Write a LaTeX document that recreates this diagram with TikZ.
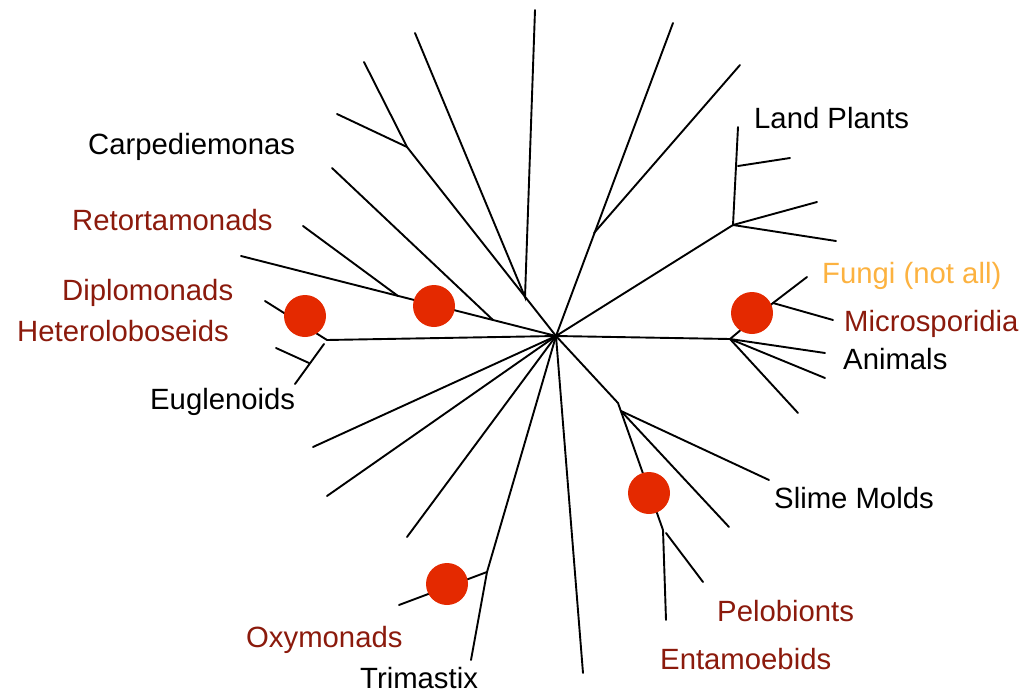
\documentclass[tikz,border=0pt]{standalone}
\usepackage{fontspec}
\setmainfont{Liberation Sans}
\definecolor{darkred}{RGB}{139,26,12}
\definecolor{fungi}{RGB}{252,178,64}
\definecolor{dotred}{RGB}{228,41,0}
\tikzset{
  branch/.style={draw=black,line width=1.9pt,line cap=round},
  event/.style={circle,fill=dotred,draw=none,minimum size=42pt,inner sep=0pt},
  taxon/.style={anchor=base west,inner sep=0pt,font=\fontsize{29.3}{34}\selectfont},
  black taxon/.style={taxon,text=black},
  red taxon/.style={taxon,text=darkred},
  fungi taxon/.style={taxon,text=fungi},
}
\begin{document}
\begin{tikzpicture}[x=1pt,y=-1pt]
\useasboundingbox (0,0) rectangle (1020,693);

% root of the unrooted tree
\coordinate (C) at (556,336);

% upper-left clade
\coordinate (j1) at (407,147);
\coordinate (a1) at (364,62);
\coordinate (a1b) at (337,114);
\coordinate (j2) at (525,297);
\coordinate (a2) at (415,33);
\coordinate (a3) at (535,10);

% Retortamonads line with side branches
\coordinate (r0) at (241,256);
\coordinate (r1) at (398,296);
\coordinate (r1t) at (303,226);
\coordinate (r2) at (493,320);
\coordinate (r2t) at (332,168);

% Heterolobosei / Diplomonads / Euglenoids
\coordinate (h0) at (327,340);
\coordinate (d0) at (265,301);
\coordinate (e0) at (324,344);
\coordinate (e1) at (295,384);
\coordinate (e2) at (309,363);
\coordinate (e2t) at (276,348);

% upper-right clades
\coordinate (t0) at (594,233);
\coordinate (t1) at (673,23);
\coordinate (t2) at (740,65);
\coordinate (L0) at (733,225);
\coordinate (L1) at (738,127);
\coordinate (L2) at (738,166);
\coordinate (L2t) at (790,158);
\coordinate (L3) at (817,202);
\coordinate (L4) at (836,241);

% opisthokonts
\coordinate (F0) at (730,339);
\coordinate (F1) at (773,303);
\coordinate (Ft) at (807,277);
\coordinate (Mt) at (833,320);
\coordinate (A1) at (825,353);
\coordinate (A2) at (825,378);
\coordinate (A3) at (798,413);

% amoebozoa
\coordinate (S0) at (618,403);
\coordinate (S1) at (621,411);
\coordinate (P0) at (663,530);
\coordinate (P1) at (666,620);
\coordinate (P2) at (666,533);
\coordinate (P2t) at (703,582);
\coordinate (S2) at (729,527);
\coordinate (S3) at (769,480);

% lower-left lineages
\coordinate (b1) at (313,447);
\coordinate (b2) at (327,496);
\coordinate (b3) at (407,537);
\coordinate (T0) at (487,572);
\coordinate (T1) at (471,660);
\coordinate (T2) at (399,605);
\coordinate (b5) at (583,673);

% branches
\draw[branch] (C) -- (j1) -- (a1);
\draw[branch] (j1) -- (a1b);
\draw[branch] (a2) -- (j2) -- (a3);
\draw[branch] (r0) -- (C);
\draw[branch] (r1t) -- (r1);
\draw[branch] (r2t) -- (r2);
\draw[branch] (C) -- (h0);
\draw[branch] (d0) -- (h0);
\draw[branch] (e0) -- (e1);
\draw[branch] (e2t) -- (e2);
\draw[branch] (C) -- (t1);
\draw[branch] (t0) -- (t2);
\draw[branch] (C) -- (L0) -- (L1);
\draw[branch] (L2) -- (L2t);
\draw[branch] (L0) -- (L3);
\draw[branch] (L0) -- (L4);
\draw[branch] (C) -- (F0) -- (F1) -- (Ft);
\draw[branch] (F1) -- (Mt);
\draw[branch] (F0) -- (A1);
\draw[branch] (F0) -- (A2);
\draw[branch] (F0) -- (A3);
\draw[branch] (C) -- (S0) -- (P0) -- (P1);
\draw[branch] (P2) -- (P2t);
\draw[branch] (S1) -- (S2);
\draw[branch] (S1) -- (S3);
\draw[branch] (C) -- (b1);
\draw[branch] (C) -- (b2);
\draw[branch] (C) -- (b3);
\draw[branch] (C) -- (T0) -- (T1);
\draw[branch] (T0) -- (T2);
\draw[branch] (C) -- (b5);

% marked events
\node[event] (dot1) at (305,316) {};
\node[event] (dot2) at (434,306) {};
\node[event] (dot3) at (752,313) {};
\node[event] (dot4) at (649,493) {};
\node[event] (dot5) at (447,584) {};

% labels
\node[black taxon] (carp) at (88,154) {Carpediemonas};
\node[red taxon] (retort) at (72,230) {Retortamonads};
\node[red taxon] (diplo) at (62,300.5) {Diplomonads};
\node[red taxon] (hetero) at (17,341.5) {Heteroloboseids};
\node[black taxon] (eugl) at (150,409) {Euglenoids};
\node[black taxon] (land) at (754,128) {Land Plants};
\node[fungi taxon] (fungi) at (822,283.5) {Fungi (not all)};
\node[red taxon] (micro) at (844,331) {Microsporidia};
\node[black taxon] (anim) at (843,369) {Animals};
\node[black taxon] (slime) at (774,508.5) {Slime Molds};
\node[red taxon] (pelo) at (717,621.5) {Pelobionts};
\node[red taxon] (entam) at (660,669.5) {Entamoebids};
\node[red taxon] (oxy) at (246,647) {Oxymonads};
\node[black taxon] (trim) at (360,688) {Trimastix};
\end{tikzpicture}
\end{document}
